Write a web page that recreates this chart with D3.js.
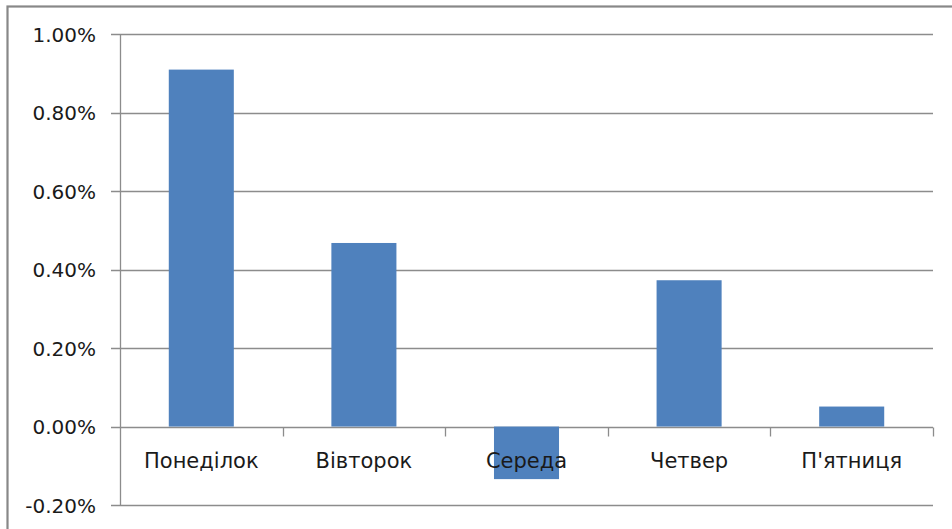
<!DOCTYPE html>
<html>
<head>
<meta charset="utf-8">
<script src="https://cdn.jsdelivr.net/npm/d3@7"></script>
<style>
  html, body { margin: 0; padding: 0; background: #fff; }
  svg { display: block; }
  text { font-family: "DejaVu Sans", sans-serif; fill: #1a1a1a; }
</style>
</head>
<body>
<svg id="chart" width="952" height="529"></svg>
<script>
// Weekday return values, in percent
const days = ["Понеділок", "Вівторок", "Середа", "Четвер", "П'ятниця"];
const returns = [0.91, 0.468, -0.134, 0.373, 0.051];
const yTicks = [-0.2, 0, 0.2, 0.4, 0.6, 0.8, 1.0];

const svg = d3.select("#chart");
const W = 952, H = 529;
const plot = { left: 120, right: 933, top: 34.3, bottom: 505 };

// Chart frame (runs past the right and bottom edges)
svg.append("rect")
  .attr("x", 7.5).attr("y", 6.5)
  .attr("width", W + 20).attr("height", H + 20)
  .attr("fill", "none")
  .attr("stroke", "#888")
  .attr("stroke-width", 2.2);

const x = d3.scaleBand()
  .domain(days)
  .range([plot.left, plot.right])
  .paddingInner(0)
  .paddingOuter(0);

const y = d3.scaleLinear()
  .domain([-0.2, 1.0])
  .range([plot.bottom, plot.top]);

const fmt = v => v.toFixed(2) + "%";

// Horizontal gridlines
svg.append("g")
  .selectAll("line")
  .data(yTicks)
  .join("line")
  .attr("x1", plot.left - 9)
  .attr("x2", plot.right)
  .attr("y1", d => Math.round(y(d)) + 0.5)
  .attr("y2", d => Math.round(y(d)) + 0.5)
  .attr("stroke", "#8c8c8c")
  .attr("stroke-width", 1.3);

// Y axis labels
const yAxis = d3.axisLeft(y).tickValues(yTicks).tickFormat(fmt).tickSize(0).tickPadding(0);
const gy = svg.append("g").attr("transform", `translate(${plot.left - 24},0)`).call(yAxis);
gy.select(".domain").remove();
gy.selectAll("text")
  .attr("font-size", 20)
  .attr("font-family", "DejaVu Sans, sans-serif")
  .attr("fill", "#1a1a1a")
  .attr("dy", "0.36em");

// Bars
const barW = x.bandwidth() / 2.5;
svg.append("g")
  .selectAll("rect")
  .data(days.map((d, i) => ({ day: d, v: returns[i] })))
  .join("rect")
  .attr("x", d => x(d.day) + (x.bandwidth() - barW) / 2)
  .attr("width", barW)
  .attr("y", d => y(Math.max(0, d.v)))
  .attr("height", d => Math.abs(y(d.v) - y(0)))
  .attr("fill", "#4f81bd");

// Vertical value axis line
svg.append("line")
  .attr("x1", plot.left + 0.5).attr("x2", plot.left + 0.5)
  .attr("y1", plot.top).attr("y2", plot.bottom)
  .attr("stroke", "#8c8c8c")
  .attr("stroke-width", 1.3);

// Category axis along zero
const xAxis = d3.axisBottom(x).tickSize(0).tickPadding(0);
const gx = svg.append("g").attr("transform", `translate(0,${Math.round(y(0)) + 0.5})`).call(xAxis);
gx.select(".domain").remove();
gx.selectAll("text")
  .attr("font-size", 21)
  .attr("font-family", "DejaVu Sans, sans-serif")
  .attr("fill", "#1a1a1a")
  .attr("y", 40)
  .attr("dy", 0);

// Category boundary ticks
const bounds = days.slice(1).map(d => x(d)).concat([plot.right]);
gx.append("g")
  .selectAll("line")
  .data(bounds)
  .join("line")
  .attr("x1", d => Math.round(d) + 0.5)
  .attr("x2", d => Math.round(d) + 0.5)
  .attr("y1", 0).attr("y2", 9)
  .attr("stroke", "#8c8c8c")
  .attr("stroke-width", 1.3);
</script>
</body>
</html>
